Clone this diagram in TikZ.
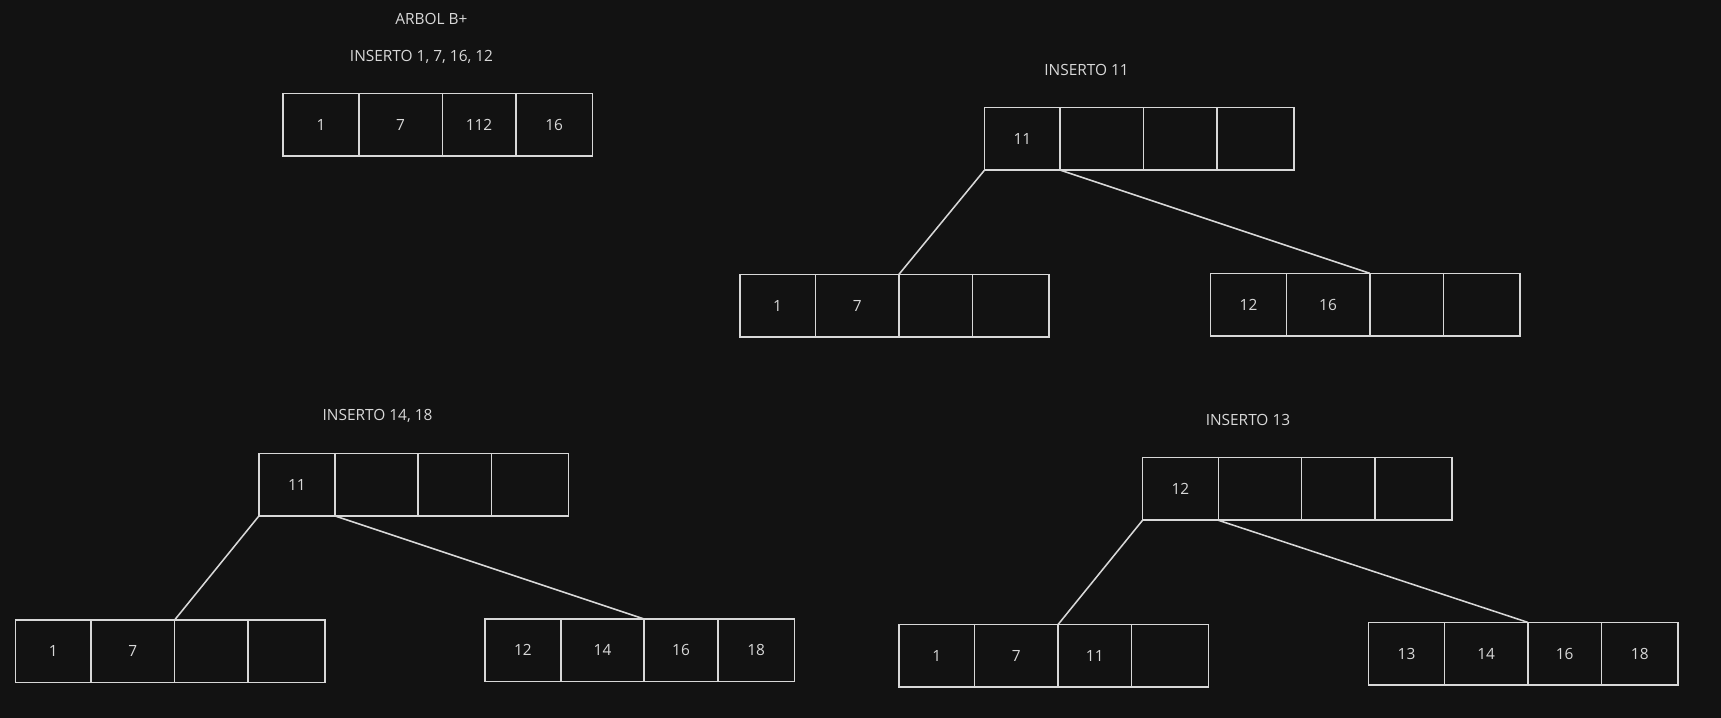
\documentclass[tikz,border=0pt]{standalone}
\usepackage{fontspec}
\setmainfont{Open Sans}
\usepackage{xcolor}
\usepackage{tikz}
\usetikzlibrary{positioning}

\definecolor{canvas}{HTML}{121212}
\definecolor{ink}{HTML}{D8D8D8}

% one B+ node with four key slots
\newcommand{\keynode}[6]{%
  \node[cell, minimum width=1.38cm, anchor=north west] (#1a) at (#2) {#3};
  \node[cell, minimum width=1.52cm, right=0pt of #1a] (#1b) {#4};
  \node[cell, minimum width=1.34cm, right=0pt of #1b] (#1c) {#5};
  \node[cell, minimum width=1.40cm, right=0pt of #1c] (#1d) {#6};
}

\begin{document}
\begin{tikzpicture}[
    x=0.02cm, y=-0.02cm,
    cell/.style={
        rectangle,
        draw=ink,
        line width=0.8pt,
        minimum height=1.14cm,
        inner sep=0pt,
        outer sep=0pt,
        text=ink,
        font=\fontsize{8}{10}\selectfont
    },
    caption/.style={
        text=ink,
        font=\fontsize{8}{10}\selectfont
    },
    link/.style={
        draw=ink,
        line width=0.8pt
    }
]

\fill[canvas] (0,0) rectangle (1568,654);
\useasboundingbox (0,0) rectangle (1568,654);

\node[caption] (title) at (393,17) {ARBOL B+};

% step 1
\node[caption] (cap1) at (384,52) {INSERTO 1, 7, 16, 12};
\keynode{t}{258,85}{1}{7}{112}{16}

% step 2
\node[caption] (cap2) at (990,64) {INSERTO 11};
\keynode{ra}{897,98}{11}{}{}{}
\keynode{la}{674,250}{1}{7}{}{}
\keynode{qa}{1103,249}{12}{16}{}{}

\draw[link] (raa.south west) -- (lac.north west);
\draw[link] (raa.south east) -- (qac.north west);

% step 3
\node[caption] (cap3) at (344,379) {INSERTO 14, 18};
\keynode{rb}{236,413}{11}{}{}{}
\keynode{lb}{14,565}{1}{7}{}{}
\keynode{qb}{442,564}{12}{14}{16}{18}

\draw[link] (rba.south west) -- (lbc.north west);
\draw[link] (rba.south east) -- (qbc.north west);

% step 4
\node[caption] (cap4) at (1137,383) {INSERTO 13};
\keynode{rc}{1041,417}{12}{}{}{}
\keynode{lc}{819,569}{1}{7}{11}{}
\keynode{qc}{1247,567}{13}{14}{16}{18}

\draw[link] (rca.south west) -- (lcc.north west);
\draw[link] (rca.south east) -- (qcc.north west);

\end{tikzpicture}
\end{document}
